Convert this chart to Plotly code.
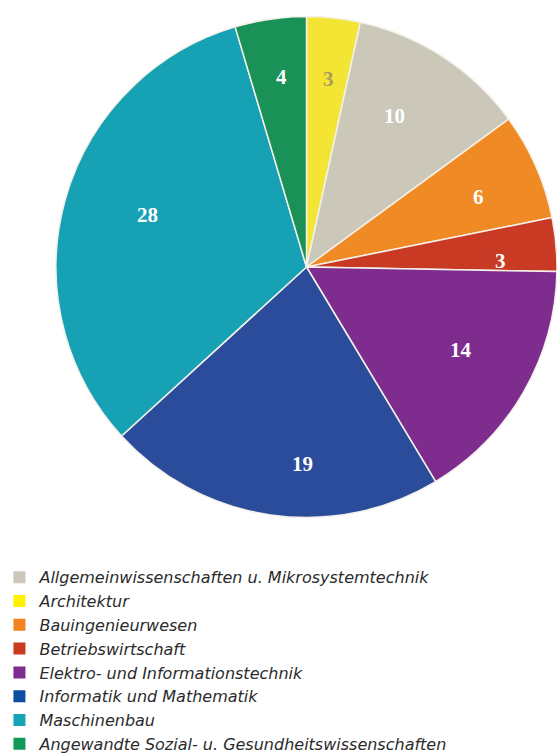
import math
import plotly.graph_objects as go

# Faculty shares, clockwise from 12 o'clock
slice_labels = ["Architektur", "Allgemeinwissenschaften u. Mikrosystemtechnik",
                "Bauingenieurwesen", "Betriebswirtschaft",
                "Elektro- und Informationstechnik", "Informatik und Mathematik",
                "Maschinenbau", "Angewandte Sozial- u. Gesundheitswissenschaften"]
slice_values = [3, 10, 6, 3, 14, 19, 28, 4]

# Legend order
legend_labels = ["Allgemeinwissenschaften u. Mikrosystemtechnik", "Architektur",
                 "Bauingenieurwesen", "Betriebswirtschaft",
                 "Elektro- und Informationstechnik", "Informatik und Mathematik",
                 "Maschinenbau", "Angewandte Sozial- u. Gesundheitswissenschaften"]

# Styling
slice_colors = ["#f4e433", "#cbc8ba", "#f08a25", "#c93a24",
                "#7e2d8f", "#2b4b9b", "#17a1b4", "#1a9157"]
label_colors = ["#a99a5c", "white", "white", "white", "white", "white", "white", "white"]
legend_colors = ["#cbc8ba", "#fff200", "#f58220", "#cc3a22",
                 "#7f2c90", "#0d4ea3", "#12a3b5", "#119a57"]
# label placement tweaks: angular shift (deg) from slice middle, radius as fraction of R
label_shift = [0.0, -1.8, -1.2, -0.5, -3.7, -7.1, 5.5, 1.3]
label_radius = [0.81, 0.77, 0.79, 0.81, 0.745, 0.785, 0.733, 0.82]

W, H = 557, 753
dom_x = [56 / W, 1.0]
dom_y = [1 - 518 / H, 1 - 16 / H]

fig = go.Figure()
fig.add_trace(go.Pie(
    labels=slice_labels, values=slice_values, sort=False,
    direction="clockwise", rotation=0,
    marker=dict(colors=slice_colors, line=dict(color="#f4f1ea", width=1.5)),
    textinfo="none", hoverinfo="label+value", showlegend=False,
    domain=dict(x=dom_x, y=dom_y),
))

# value labels placed around the middle angle of each slice
cx = (dom_x[0] + dom_x[1]) / 2
cy = (dom_y[0] + dom_y[1]) / 2
rx = (dom_x[1] - dom_x[0]) / 2
ry = (dom_y[1] - dom_y[0]) / 2
total = sum(slice_values)
acc = 0
for v, c, sh, r in zip(slice_values, label_colors, label_shift, label_radius):
    mid = (acc + v / 2) / total * 2 * math.pi + math.radians(sh)
    acc += v
    fig.add_annotation(
        x=cx + r * rx * math.sin(mid), y=cy + r * ry * math.cos(mid),
        xref="paper", yref="paper", text=f"<b>{v}</b>", showarrow=False,
        font=dict(family="Liberation Serif", size=21, color=c),
    )

for name, col in zip(legend_labels, legend_colors):
    fig.add_trace(go.Scatter(
        x=[None], y=[None], mode="markers", name=name,
        marker=dict(symbol="square", size=13, color=col),
    ))

fig.update_layout(
    width=W, height=H, margin=dict(l=0, r=0, t=0, b=0, autoexpand=False),
    paper_bgcolor="white", plot_bgcolor="white",
    xaxis=dict(visible=False), yaxis=dict(visible=False),
    legend=dict(x=-0.001, y=-0.011, xanchor="left", yanchor="bottom",
                font=dict(family="DejaVu Sans", size=16, color="#2b2b2b", style="italic"),
                bgcolor="rgba(0,0,0,0)", traceorder="normal", itemsizing="constant"),
)

fig.write_html("out.html")
